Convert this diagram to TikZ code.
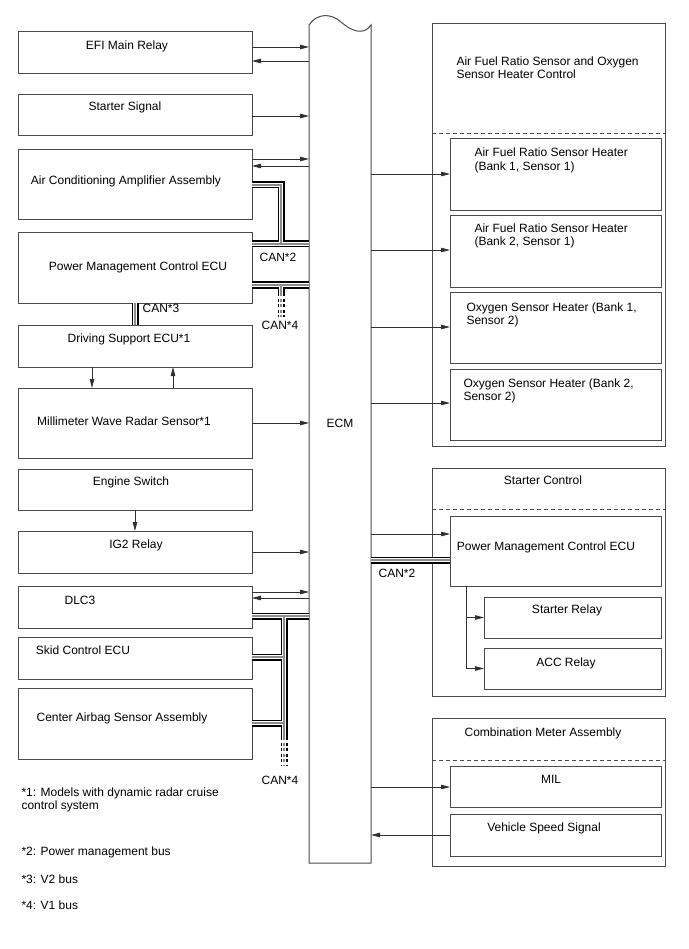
\documentclass[tikz,border=0pt]{standalone}
\usepackage{fontspec}
\setmainfont{Liberation Sans}
\usetikzlibrary{arrows.meta}
\definecolor{frame}{HTML}{4A4A4A}
\definecolor{wire}{HTML}{303030}
\definecolor{busmid}{HTML}{8C8C8C}
\tikzset{
  blk/.style={draw=frame,line width=1pt,minimum width=234pt,inner sep=0pt,outer sep=0pt},
  sub/.style={blk,minimum width=211pt},
  grp/.style={blk,minimum width=233pt},
  flow/.style={-{Triangle[length=9pt,width=4.5pt]},line width=0.8pt,draw=wire},
  sep/.style={draw=frame,line width=0.9pt,dash pattern=on 4pt off 3pt},
  bus/.style={line width=7pt,draw=black,line join=miter,
    postaction={draw=white,line width=3.4pt},
    postaction={draw=busmid,line width=1.2pt}},
  busend/.style={bus,dash pattern=on 3pt off 2.5pt}
}

\begin{document}
\begin{tikzpicture}[x=1pt,y=-1pt,font=\fontsize{12}{13.5}\selectfont]
  \useasboundingbox (0,0) rectangle (688,949);

  \node[blk,minimum width=62pt,minimum height=838pt,draw=none] (ecm) at (340,444) {};
  \draw[draw=frame,line width=1pt] (ecm.south west) -- (ecm.north west)
    .. controls (317,13) and (331,13) .. (341,22)
    .. controls (351,31) and (364,36) .. (ecm.north east) -- (ecm.south east) -- cycle;
  \node (ecm-t) at (340,423) {ECM};

  \node[blk,minimum height=42pt] (efi) at (135,53) {};
  \node[blk,minimum height=41pt] (stsig) at (135,115.5) {};
  \node[blk,minimum height=70pt] (aircon) at (135,185) {};
  \node[blk,minimum height=70pt] (pmc) at (135,268) {};
  \node[blk,minimum height=42pt] (dsecu) at (135,346) {};
  \node[blk,minimum height=70pt] (radar) at (135,423) {};
  \node[blk,minimum height=41pt] (engsw) at (135,489.5) {};
  \node[blk,minimum height=42pt] (ig2) at (135,552) {};
  \node[blk,minimum height=42pt] (dlc) at (135,607) {};
  \node[blk,minimum height=42pt] (skid) at (135,658) {};
  \node[blk,minimum height=71pt] (airbag) at (135,723.5) {};

  \node (efi-t) at (127,46) {EFI Main Relay};
  \node (stsig-t) at (125,107) {Starter Signal};
  \node (aircon-t) at (126,181) {Air Conditioning Amplifier Assembly};
  \node (pmc-t) at (138,267) {Power Management Control ECU};
  \node (dsecu-t) at (129,339) {Driving Support ECU*1};
  \node (radar-t) at (124,421) {Millimeter Wave Radar Sensor*1};
  \node (engsw-t) at (131,482) {Engine Switch};
  \node (ig2-t) at (136,545) {IG2 Relay};
  \node (dlc-t) at (80,600) {DLC3};
  \node (skid-t) at (83,650) {Skid Control ECU};
  \node (airbag-t) at (122,718) {Center Airbag Sensor Assembly};

  \node[grp,minimum height=422pt] (afrgrp) at (548.5,235) {};
  \node[grp,minimum height=228pt] (stgrp) at (548.5,582) {};
  \node[grp,minimum height=148pt] (cmgrp) at (548.5,792) {};
  \draw[sep] (afrgrp.west |- 0,133) -- (afrgrp.east |- 0,133);
  \draw[sep] (stgrp.west |- 0,509) -- (stgrp.east |- 0,509);
  \draw[sep] (cmgrp.west |- 0,760) -- (cmgrp.east |- 0,760);

  \node[sub,minimum height=72pt] (afr1) at (555.5,175) {};
  \node[sub,minimum height=71pt] (afr2) at (555.5,251.5) {};
  \node[sub,minimum height=71pt] (oxy1) at (555.5,327.5) {};
  \node[sub,minimum height=71pt] (oxy2) at (555.5,404.5) {};
  \node[sub,minimum height=70pt] (pmc2) at (555.5,551) {};
  \node[blk,minimum width=177pt,minimum height=41pt] (strelay) at (572.5,617.5) {};
  \node[blk,minimum width=177pt,minimum height=41pt] (accrelay) at (572.5,668.5) {};
  \node[sub,minimum height=41pt] (mil) at (555.5,786.5) {};
  \node[sub,minimum height=42pt] (vss) at (555.5,835) {};

  \node[anchor=west,align=left] (afrgrp-t) at (453,67.5)
    {Air Fuel Ratio Sensor and Oxygen\\Sensor Heater Control};
  \node[anchor=west,align=left] (afr1-t) at (471,160.5)
    {Air Fuel Ratio Sensor Heater\\(Bank 1, Sensor 1)};
  \node[anchor=west,align=left] (afr2-t) at (471,236)
    {Air Fuel Ratio Sensor Heater\\(Bank 2, Sensor 1)};
  \node[anchor=west,align=left] (oxy1-t) at (463,315)
    {Oxygen Sensor Heater (Bank 1,\\Sensor 2)};
  \node[anchor=west,align=left] (oxy2-t) at (460,391)
    {Oxygen Sensor Heater (Bank 2,\\Sensor 2)};
  \node (stgrp-t) at (543,480) {Starter Control};
  \node (pmc2-t) at (546,547) {Power Management Control ECU};
  \node (strelay-t) at (567,610) {Starter Relay};
  \node (accrelay-t) at (566,663) {ACC Relay};
  \node (cmgrp-t) at (543,733) {Combination Meter Assembly};
  \node (mil-t) at (551,779) {MIL};
  \node (vss-t) at (544,828) {Vehicle Speed Signal};

  \draw[flow] (efi.east |- 0,47) -- (ecm.west |- 0,47);
  \draw[flow] (ecm.west |- 0,61) -- (efi.east |- 0,61);
  \draw[flow] (stsig.east |- 0,116) -- (ecm.west |- 0,116);
  \draw[flow] (aircon.east |- 0,159) -- (ecm.west |- 0,159);
  \draw[flow] (ecm.west |- 0,166) -- (aircon.east |- 0,166);
  \draw[flow] (dsecu.south -| 92,0) -- (radar.north -| 92,0);
  \draw[flow] (radar.north -| 173,0) -- (dsecu.south -| 173,0);
  \draw[flow] (radar.east) -- (radar.east -| ecm.west);
  \draw[flow] (engsw.south) -- (ig2.north);
  \draw[flow] (ig2.east) -- (ig2.east -| ecm.west);
  \draw[flow] (dlc.east |- 0,592) -- (ecm.west |- 0,592);
  \draw[flow] (ecm.west |- 0,598) -- (dlc.east |- 0,598);

  \draw[flow] (ecm.east |- 0,174) -- (afr1.west |- 0,174);
  \draw[flow] (ecm.east |- 0,250) -- (afr2.west |- 0,250);
  \draw[flow] (ecm.east |- 0,327) -- (oxy1.west |- 0,327);
  \draw[flow] (ecm.east |- 0,403) -- (oxy2.west |- 0,403);
  \draw[flow] (ecm.east |- 0,534) -- (pmc2.west |- 0,534);
  \draw[flow] (pmc2.south -| 466,0) |- (strelay.west);
  \draw[flow] (pmc2.south -| 466,0) |- (accrelay.west);
  \draw[flow] (ecm.east |- 0,787) -- (mil.west |- 0,787);
  \draw[flow] (vss.west) -- (vss.west -| ecm.east);

  \draw[bus] (aircon.east |- 0,185) -- (281,185) -- (281,244)
    (pmc.east |- 0,244) -- (ecm.west |- 0,244);
  \draw[bus] (pmc.east |- 0,285) -- (ecm.west |- 0,285) (281,285) -- (281,293);
  \draw[busend] (281,293) -- (281,317);
  \draw[bus] (pmc.south) -- (dsecu.north);
  \draw[bus] (dlc.east |- 0,616) -- (ecm.west |- 0,616) (284,616) -- (284,737)
    (skid.east |- 0,657) -- (284,657) (airbag.east |- 0,723) -- (284,723);
  \draw[busend] (284,737) -- (284,766);
  \draw[bus] (ecm.east |- 0,560) -- (pmc2.west |- 0,560);

  \node (can2-t) at (278,257) {CAN*2};
  \node (can4-t) at (280,325) {CAN*4};
  \node (can3-t) at (161,308) {CAN*3};
  \node (can4b-t) at (280,780) {CAN*4};
  \node (can2b-t) at (397,573) {CAN*2};

  \node[anchor=west,align=left] (note1) at (18,800)
    {*1: Models with dynamic radar cruise\\control system};
  \node[anchor=west] (note2) at (18,852) {*2: Power management bus};
  \node[anchor=west] (note3) at (18,879) {*3: V2 bus};
  \node[anchor=west] (note4) at (18,905) {*4: V1 bus};
\end{tikzpicture}
\end{document}
